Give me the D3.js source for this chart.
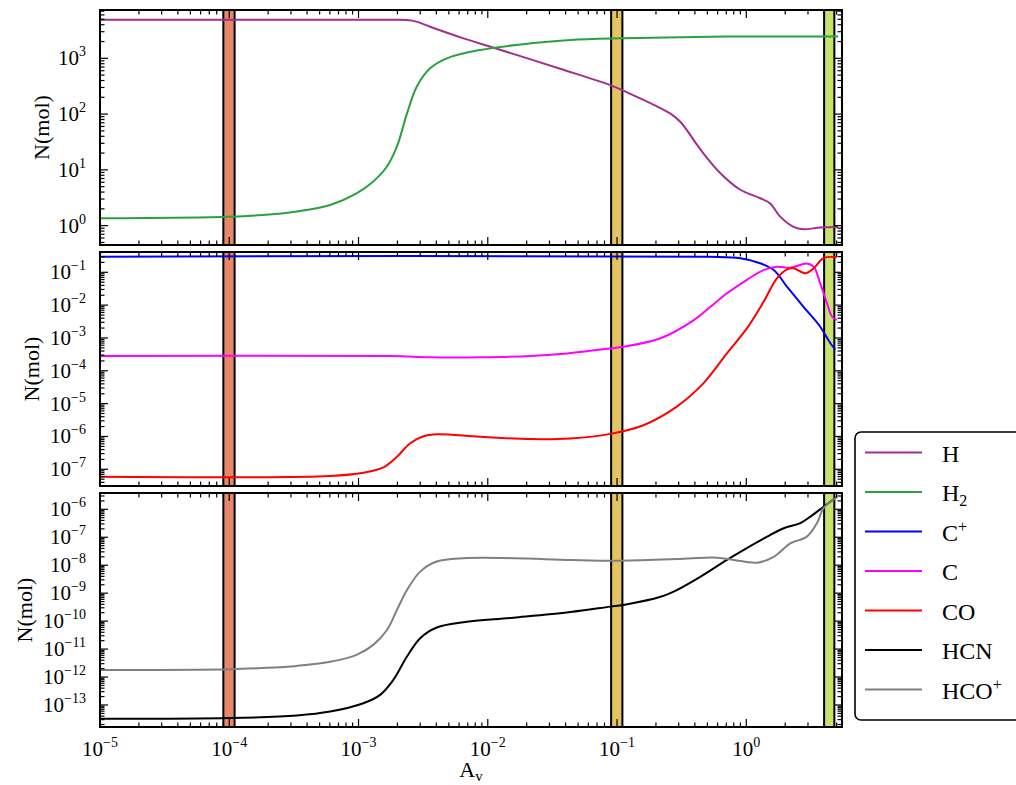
<!DOCTYPE html>
<html>
<head>
<meta charset="utf-8">
<script src="https://cdn.jsdelivr.net/npm/d3@7"></script>
<style>
  body { margin: 0; background: #fff; }
  svg { display: block; }
  text { font-family: "Liberation Serif", "Times New Roman", serif; fill: #000; }
</style>
</head>
<body>
<svg id="chart" width="1016" height="785"></svg>
<script>
// ---- Column densities along the visual extinction A_v ----
const avH  = [1e-5, 1.9e-3, 2.37e-3, 2.8e-3, 3.58e-3, 6.49e-3, 1.11e-2, 3.63e-2, 8.85e-2, 0.112, 0.259, 0.31, 0.443, 0.63, 0.9, 1.28, 1.53, 1.83, 2.32, 2.77, 3.73, 5.13];
const nH   = [4900, 4900, 4850, 4550, 3680, 2280, 1550, 650, 331, 263, 102, 72, 23, 8.7, 4.4, 3.1, 2.5, 1.45, 0.95, 0.86, 0.93, 0.95];

const avH2 = [1e-5, 1.01e-4, 1.8e-4, 3.33e-4, 6.03e-4, 9.66e-4, 1.30e-3, 1.66e-3, 1.98e-3, 2.37e-3, 2.82e-3, 3.58e-3, 4.82e-3, 8.71e-3, 2.14e-2, 4.35e-2, 0.112, 0.708, 5.13];
const nH2  = [1.36, 1.45, 1.55, 1.8, 2.35, 3.8, 6.2, 11.5, 26, 102, 309, 661, 1000, 1410, 1860, 2140, 2290, 2450, 2450];

const avCp = [1e-5, 0.5, 0.9, 1.28, 1.63, 2.07, 2.77, 3.73, 4.47, 4.89];
const nCp  = [0.3, 0.295, 0.267, 0.188, 0.117, 0.036, 8.9e-3, 2.2e-3, 6.9e-4, 4.5e-4];

const avC  = [1e-5, 1.76e-3, 3.58e-3, 8.7e-3, 2.14e-2, 3.9e-2, 8.85e-2, 0.112, 0.217, 0.393, 0.528, 0.71, 1.01, 1.36, 1.73, 2.19, 2.94, 3.32, 3.73, 4.21, 4.6, 5.02];
const nC   = [2.8e-4, 2.8e-4, 2.57e-4, 2.57e-4, 2.8e-4, 3.3e-4, 4.8e-4, 5.4e-4, 9.8e-4, 3.5e-3, 8.9e-3, 2.3e-2, 5.9e-2, 0.117, 0.148, 0.138, 0.186, 0.148, 4.6e-2, 1.15e-2, 4.5e-3, 3.5e-3];

const avCO = [1e-5, 6.03e-4, 1.09e-3, 1.56e-3, 1.98e-3, 2.51e-3, 3.18e-3, 4.03e-3, 8.7e-3, 2.14e-2, 4.35e-2, 0.0885, 0.16, 0.29, 0.467, 0.708, 1.01, 1.36, 1.73, 2.07, 2.32, 2.86, 3.32, 3.96, 5.02];
const nCO  = [5.9e-8, 6.3e-8, 7.9e-8, 1.15e-7, 2.4e-7, 6.2e-7, 1.02e-6, 1.17e-6, 9.8e-7, 8.3e-7, 8.7e-7, 1.2e-6, 2.2e-6, 8.1e-6, 4.2e-5, 3.4e-4, 1.95e-3, 1.26e-2, 0.066, 0.123, 0.132, 0.093, 0.132, 0.27, 0.29];

const avHCN = [1e-5, 1.01e-4, 3.33e-4, 6.03e-4, 1.09e-3, 1.47e-3, 1.86e-3, 2.37e-3, 3.0e-3, 4.03e-3, 6.49e-3, 1.58e-2, 4.35e-2, 0.0885, 0.112, 0.217, 0.29, 0.443, 0.708, 1.01, 1.45, 1.95, 2.62, 3.13, 3.96, 5.02];
const nHCN  = [3.2e-14, 3.4e-14, 4.2e-14, 5.8e-14, 1.15e-13, 2.3e-13, 7.9e-13, 5.4e-12, 2.45e-11, 5.9e-11, 9.1e-11, 1.32e-10, 2.1e-10, 3.3e-10, 3.8e-10, 7.4e-10, 1.29e-9, 3.9e-9, 1.55e-8, 4.1e-8, 1.05e-7, 2.1e-7, 3.2e-7, 5.5e-7, 1.23e-6, 2.8e-6];

const avHCOp = [1e-5, 1.01e-4, 1.8e-4, 3.33e-4, 6.03e-4, 9.66e-4, 1.30e-3, 1.66e-3, 1.98e-3, 2.37e-3, 3.0e-3, 4.03e-3, 6.49e-3, 1.58e-2, 4.35e-2, 0.1, 0.29, 0.593, 0.8, 1.21, 1.63, 2.19, 2.94, 3.52, 3.96, 5.02];
const nHCOp  = [1.78e-12, 1.9e-12, 2.1e-12, 2.5e-12, 3.5e-12, 6.2e-12, 1.41e-11, 4.8e-11, 2.5e-10, 1.29e-9, 5.9e-9, 1.35e-8, 1.78e-8, 1.78e-8, 1.55e-8, 1.45e-8, 1.66e-8, 1.86e-8, 1.55e-8, 1.23e-8, 2.0e-8, 6.0e-8, 1.05e-7, 3.2e-7, 1.1e-6, 2.7e-6];

// Highlighted A_v ranges
const bandLow    = [9e-5, 0.09, 4.0];
const bandHigh   = [1.1e-4, 0.11, 4.8];
const bandColors = ["#e5876a", "#e4c365", "#c9e26a"];

// Axis limits
const avDomain = [1e-5, 5.5];
const panelDomains = [[0.45, 7350], [3.1e-8, 0.415], [1.63e-14, 3.83e-6]];

// Series grouped by panel
const series = [
  [{ label: ["H"],          av: avH,   n: nH,   color: "#a0308c" },
   { label: ["H", "_2"],    av: avH2,  n: nH2,  color: "#2ca03c" }],
  [{ label: ["C", "^+"],    av: avCp,  n: nCp,  color: "#0000ff" },
   { label: ["C"],          av: avC,   n: nC,   color: "#ff00ff" },
   { label: ["CO"],         av: avCO,  n: nCO,  color: "#ff0000" }],
  [{ label: ["HCN"],        av: avHCN, n: nHCN, color: "#000000" },
   { label: ["HCO", "^+"],  av: avHCOp,n: nHCOp,color: "#808080" }]
];

// ---- Layout ----
const left = 100, right = 842;
const panels = [{ top: 10, bottom: 245, ylabX: 41 },
                { top: 252, bottom: 486, ylabX: 31 },
                { top: 493, bottom: 727, ylabX: 24 }];

const svg = d3.select("#chart");
const x = d3.scaleLog().domain(avDomain).range([left, right]);

function logTicks(lo, hi) {
  const major = [], minor = [];
  for (let e = Math.floor(Math.log10(lo)); e <= Math.ceil(Math.log10(hi)); e++) {
    for (let k = 1; k <= 9; k++) {
      const v = k * Math.pow(10, e);
      if (v < lo * 0.9999 || v > hi * 1.0001) continue;
      (k === 1 ? major : minor).push({ v, e });
    }
  }
  return { major, minor };
}

function powLabel(sel, e, supSize, supDy) {
  sel.append("tspan").text("10");
  sel.append("tspan").attr("dy", supDy).attr("font-size", supSize)
     .text(e < 0 ? "\u2212" + (-e) : String(e));
}

const xt = logTicks(avDomain[0], avDomain[1]);
const MAJ = 8, MIN = 4.5;

panels.forEach((p, i) => {
  const y = d3.scaleLog().domain(panelDomains[i]).range([p.bottom, p.top]);
  const g = svg.append("g");
  const clipId = "clip" + i;
  svg.append("clipPath").attr("id", clipId).append("rect")
     .attr("x", left).attr("y", p.top).attr("width", right - left).attr("height", p.bottom - p.top);

  // shaded A_v bands
  g.append("g").selectAll("rect").data(bandLow).join("rect")
    .attr("x", (d) => x(d))
    .attr("width", (d, j) => x(bandHigh[j]) - x(d))
    .attr("y", p.top).attr("height", p.bottom - p.top)
    .attr("fill", (d, j) => bandColors[j])
    .attr("stroke", "#000").attr("stroke-width", 2);

  // abundance curves (smooth centripetal spline through the samples)
  const line = d3.line()
    .x((d) => x(d[0])).y((d) => y(d[1]))
    .curve(d3.curveCatmullRom.alpha(0.5));
  g.append("g").attr("clip-path", `url(#${clipId})`)
    .selectAll("path").data(series[i]).join("path")
    .attr("d", (s) => line(s.av.map((a, k) => [a, s.n[k]])))
    .attr("fill", "none").attr("stroke", (s) => s.color)
    .attr("stroke-width", 2).attr("stroke-linejoin", "round");

  // inward ticks on all four sides
  const tg = g.append("g").attr("stroke", "#000").attr("stroke-width", 1.2);
  const xAll = xt.major.map(t => ({ ...t, len: MAJ })).concat(xt.minor.map(t => ({ ...t, len: MIN })));
  xAll.forEach(t => {
    const xx = x(t.v);
    tg.append("line").attr("x1", xx).attr("x2", xx).attr("y1", p.bottom).attr("y2", p.bottom - t.len);
    tg.append("line").attr("x1", xx).attr("x2", xx).attr("y1", p.top).attr("y2", p.top + t.len);
  });
  const yt = logTicks(panelDomains[i][0], panelDomains[i][1]);
  const yAll = yt.major.map(t => ({ ...t, len: MAJ })).concat(yt.minor.map(t => ({ ...t, len: MIN })));
  yAll.forEach(t => {
    const yy = y(t.v);
    tg.append("line").attr("x1", left).attr("x2", left + t.len).attr("y1", yy).attr("y2", yy);
    tg.append("line").attr("x1", right).attr("x2", right - t.len).attr("y1", yy).attr("y2", yy);
  });

  // frame
  g.append("rect").attr("x", left).attr("y", p.top)
    .attr("width", right - left).attr("height", p.bottom - p.top)
    .attr("fill", "none").attr("stroke", "#000").attr("stroke-width", 2);

  // y tick labels
  yt.major.forEach(t => {
    const txt = g.append("text").attr("x", 86).attr("y", y(t.v) + 7)
      .attr("text-anchor", "end").attr("font-size", 21);
    powLabel(txt, t.e, 14, -9);
  });

  // y axis label
  g.append("text")
    .attr("transform", `translate(${p.ylabX},${(p.top + p.bottom) / 2}) rotate(-90)`)
    .attr("text-anchor", "middle").attr("dy", "0.35em")
    .attr("font-size", 22).text("N(mol)");
});

// x tick labels (bottom panel only)
xt.major.forEach(t => {
  const txt = svg.append("text").attr("x", x(t.v)).attr("y", 756)
    .attr("text-anchor", "middle").attr("font-size", 21);
  powLabel(txt, t.e, 14, -9);
});

// x axis label
const xl = svg.append("text").attr("x", 471).attr("y", 777)
  .attr("text-anchor", "middle").attr("font-size", 22);
xl.append("tspan").text("A");
xl.append("tspan").attr("dy", 4).attr("font-size", 15).text("v");

// ---- Legend ----
const legendItems = series.flat();
const lg = svg.append("g");
lg.append("rect").attr("x", 855).attr("y", 432).attr("width", 200).attr("height", 288)
  .attr("rx", 6).attr("ry", 6)
  .attr("fill", "#fff").attr("stroke", "#000").attr("stroke-width", 1.6);
legendItems.forEach((s, k) => {
  const yy = 452.5 + k * 39.5;
  lg.append("line").attr("x1", 865).attr("x2", 922).attr("y1", yy).attr("y2", yy)
    .attr("stroke", s.color).attr("stroke-width", 2);
  const txt = lg.append("text").attr("x", 942).attr("y", yy + 9).attr("font-size", 24);
  txt.append("tspan").text(s.label[0]);
  if (s.label[1]) {
    const sub = s.label[1][0] === "_";
    txt.append("tspan").attr("dy", sub ? 5 : -9).attr("font-size", 16).text(s.label[1].slice(1));
  }
});
</script>
</body>
</html>
